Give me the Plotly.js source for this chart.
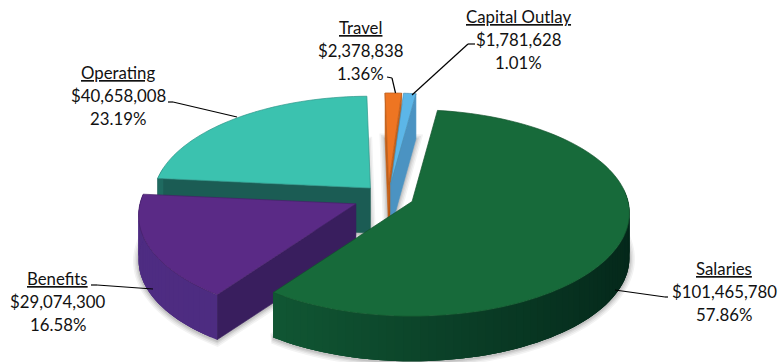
<!DOCTYPE html>
<html>
<head>
<meta charset="utf-8">
<script src="https://cdn.plot.ly/plotly-3.0.1.min.js"></script>
<style>html,body{margin:0;padding:0;background:#fff}#chart{width:779px;height:362px}</style>
</head>
<body>
<div id="chart"></div>
<script>
// Budget categories in clockwise order
const categories = ["Salaries", "Benefits", "Operating", "Travel", "Capital Outlay"];
const amounts = [101465780, 29074300, 40658008, 2378838, 1781628];
const amountLabels = ["$101,465,780", "$29,074,300", "$40,658,008", "$2,378,838", "$1,781,628"];
const percentLabels = ["57.86%", "16.58%", "23.19%", "1.36%", "1.01%"];

// Per-slice styling
const topColors = ["#176a3a", "#5a2a86", "#3bc2af", "#ee7522", "#5cb6e8"];
const faceColors = ["#0f4f2a", "#391e5e", "#1b5c54", "#c45f16", "#4b93c2"];
const wallLeft = ["#14633a", "#4e2c82", "#1f6a60", "#c45f16", "#4b93c2"];
const wallRight = ["#04271a", "#4a2a7c", "#1b5c54", "#c45f16", "#4b93c2"];
const explode = [0.12, 0.163, 0.12, 0.12, 0.12];

// Label anchor centres, leader polylines
const labelX = [724, 57.5, 118, 360.5, 518.5];
const labelY = [268.5, 278.5, 72.5, 27.5, 16.5];
const leaderX = [[668, 665, 615], [91, 97, 153], [168, 173, 237], [387, 392, 395.5], [475, 468, 412]];
const leaderY = [[297, 297, 290], [285, 285, 289], [102, 102, 117], [77, 78, 93], [44, 44, 95]];

// Projection of the tilted pie
const originX = 388, originY = 197, radiusX = 216, radiusY = 102, perspective = 0.111, depth = 45;
const startAngle = 7.5;
const paintOrder = [2, 3, 4, 1, 0];

const rad = d => d * Math.PI / 180;
const total = amounts.reduce((a, b) => a + b, 0);

function project(angle, i, mid) {
  const u = Math.sin(rad(angle)), v = Math.cos(rad(angle));
  const s = 1 / (1 + perspective * v);
  return [
    originX + explode[i] * radiusX * Math.sin(rad(mid)) + radiusX * u * s,
    originY - explode[i] * radiusY * Math.cos(rad(mid)) - radiusY * v * s
  ];
}
function apex(i, mid) {
  return [originX + explode[i] * radiusX * Math.sin(rad(mid)),
          originY - explode[i] * radiusY * Math.cos(rad(mid))];
}
function hex(c) { return [1, 3, 5].map(k => parseInt(c.substr(k, 2), 16)); }
function mix(a, b, t) {
  const A = hex(a), B = hex(b);
  return "rgb(" + A.map((v, k) => Math.round(v + (B[k] - v) * t)).join(",") + ")";
}
function poly(pts, fill, line, width) {
  return {
    type: "scatter", mode: "lines", hoverinfo: "skip", showlegend: false,
    x: pts.map(p => p[0]), y: pts.map(p => p[1]),
    fill: fill ? "toself" : "none", fillcolor: fill || undefined,
    line: { color: line, width: width, simplify: false }
  };
}
const down = (p, d) => [p[0], p[1] + d];

// Angular extents derived from the amounts
let cursor = startAngle;
const slices = amounts.map((value, i) => {
  const a0 = cursor, a1 = cursor + value / total * 360;
  cursor = a1;
  return { i, a0, a1, mid: (a0 + a1) / 2 };
});

const traces = [];
paintOrder.forEach(idx => {
  const { i, a0, a1, mid } = slices[idx];
  const n = Math.max(4, Math.ceil((a1 - a0) / 2));
  const arc = [];
  for (let k = 0; k <= n; k++) arc.push(project(a0 + (a1 - a0) * k / n, i, mid));
  const c = apex(i, mid);

  // Soft contact shadow along the lower outline
  const lower = [c].concat(arc, [c]).map(p => down(p, depth + 1));
  [[11, 0.05], [8, 0.06], [5, 0.07], [2.5, 0.09]].forEach(([w, alpha]) => {
    traces.push(poly(lower, null, "rgba(20,20,20," + alpha + ")", w));
  });

  // Radial faces that look toward the viewer
  const startFaces = Math.cos(rad(a0 - 90)) < 0;
  const endFaces = Math.cos(rad(a1 + 90)) < 0;
  const radial = (p) => [c, p, down(p, depth), down(c, depth), c];
  if (startFaces) traces.push(poly(radial(arc[0]), faceColors[i], faceColors[i], 0.6));
  if (endFaces) traces.push(poly(radial(arc[n]), faceColors[i], faceColors[i], 0.6));

  // Outer wall: overlapping bands shaded left to right, so no seams show
  for (let k = 0; k < n; k++) {
    const am = a0 + (a1 - a0) * (k + 0.5) / n;
    if (Math.cos(rad(am)) > 0.12) continue;
    const t = (Math.sin(rad(am)) + 1) / 2;
    const col = mix(wallLeft[i], wallRight[i], t);
    const m = Math.min(n, k + 3);
    const band = arc.slice(k, m + 1);
    const pts = band.concat(band.slice().reverse().map(p => down(p, depth)), [band[0]]);
    traces.push(poly(pts, col, col, 0));
  }

  // Top surface
  traces.push(poly([c].concat(arc, [c]), topColors[i], mix(topColors[i], "#000000", 0.22), 0.7));
});

// Leader lines
const shapes = [];
categories.forEach((_, i) => {
  [0, 1].forEach(k => {
    shapes.push({ type: "line", xref: "x", yref: "y", layer: "above",
      x0: leaderX[i][k], y0: leaderY[i][k], x1: leaderX[i][k + 1], y1: leaderY[i][k + 1],
      line: { color: "#000", width: 1.2 } });
  });
});

// Three-line labels with an underlined category name
const labelFont = { family: "Lato, 'Open Sans', sans-serif", size: 16.8, color: "#111" };
const annotations = [];
categories.forEach((name, i) => {
  const lines = [name, amountLabels[i], percentLabels[i]];
  lines.forEach((text, k) => {
    annotations.push({
      xref: "x", yref: "y", x: labelX[i], y: labelY[i] + k * 23.2,
      text, showarrow: false, xanchor: "center", yanchor: "middle",
      borderpad: 0,
      font: k === 0 ? Object.assign({}, labelFont, { lineposition: "under" }) : labelFont
    });
  });
});

Plotly.newPlot("chart", traces, {
  width: 779, height: 362, autosize: false,
  margin: { l: 0, r: 0, t: 0, b: 0 },
  paper_bgcolor: "#fff", plot_bgcolor: "#fff",
  xaxis: { range: [0, 779], visible: false, fixedrange: true },
  yaxis: { range: [362, 0], visible: false, fixedrange: true },
  showlegend: false, shapes, annotations, hovermode: false
}, { displayModeBar: false, staticPlot: true });
</script>
</body>
</html>
